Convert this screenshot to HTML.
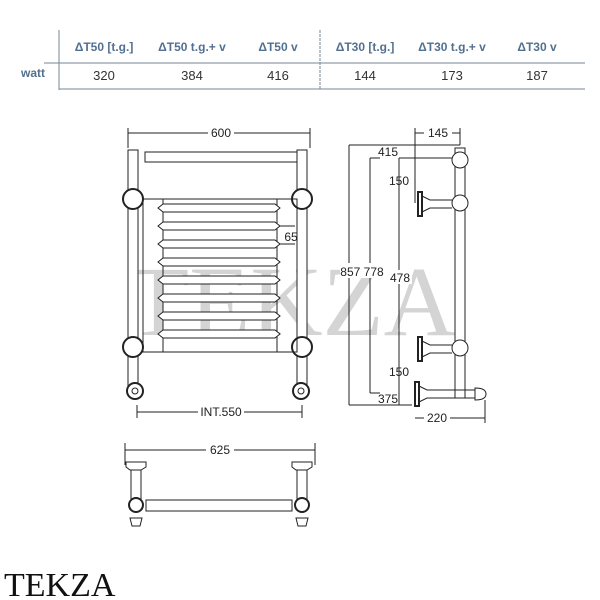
<!DOCTYPE html>
<html><head><style>body{margin:0;background:#fff}svg{display:block}</style></head><body>
<svg width="600" height="600" viewBox="0 0 600 600" xmlns="http://www.w3.org/2000/svg" font-family="Liberation Sans, sans-serif">
<!-- table -->
<g stroke="#7a8694" stroke-width="1">
<line x1="59" y1="30" x2="59" y2="90"/>
<line x1="44" y1="63" x2="585" y2="63"/>
<line x1="59" y1="89" x2="585" y2="89"/>
<line x1="320" y1="30" x2="320" y2="90" stroke-dasharray="3,1"/>
</g>
<g fill="#52708f" font-size="12" font-weight="bold" text-anchor="middle">
<text x="104" y="51">ΔT50 [t.g.]</text><text x="192" y="51">ΔT50 t.g.+  v</text><text x="278" y="51">ΔT50 v</text>
<text x="365" y="51">ΔT30 [t.g.]</text><text x="452" y="51">ΔT30 t.g.+  v</text><text x="537" y="51">ΔT30 v</text>
<text x="33" y="77">watt</text></g>
<g fill="#333" font-size="13" text-anchor="middle">
<text x="104" y="80">320</text><text x="192" y="80">384</text><text x="278" y="80">416</text>
<text x="365" y="80">144</text><text x="452" y="80">173</text><text x="537" y="80">187</text></g>
<!-- watermark -->
<text x="292" y="335" font-family="Liberation Serif, serif" font-size="100" fill="#d4d4d4" text-anchor="middle">TEKZA</text>
<g fill="none" stroke="#222" stroke-width="1">
<!-- front view -->
<line x1="128" y1="133" x2="310" y2="133"/><line x1="128" y1="128" x2="128" y2="148"/><line x1="310" y1="128" x2="310" y2="148"/>
<rect x="128" y="150" width="10" height="240" fill="#fff"/><rect x="297" y="150" width="10" height="240" fill="#fff"/>
<rect x="145" y="152" width="152" height="10" fill="#fff"/>
<circle cx="133" cy="199" r="10" fill="#fff" stroke-width="2"/><circle cx="302" cy="199" r="10" fill="#fff" stroke-width="2"/>
<circle cx="133" cy="347" r="10" fill="#fff" stroke-width="2"/><circle cx="302" cy="347" r="10" fill="#fff" stroke-width="2"/>
<rect x="143" y="199" width="154" height="153"/>
<line x1="163" y1="199" x2="163" y2="352"/><line x1="277" y1="199" x2="277" y2="352"/>
<g fill="#fff">
<path d="M158 208 L163 204 L275 204 L280 208 L275 212 L163 212Z"/>
<path d="M158 226 L163 222 L275 222 L280 226 L275 230 L163 230Z"/>
<path d="M158 244 L163 240 L275 240 L280 244 L275 248 L163 248Z"/>
<path d="M158 262 L163 258 L275 258 L280 262 L275 266 L163 266Z"/>
<path d="M158 280 L163 276 L275 276 L280 280 L275 284 L163 284Z"/>
<path d="M158 298 L163 294 L275 294 L280 298 L275 302 L163 302Z"/>
<path d="M158 316 L163 312 L275 312 L280 316 L275 320 L163 320Z"/>
<path d="M158 334 L163 330 L275 330 L280 334 L275 338 L163 338Z"/>
</g>
<line x1="280" y1="226" x2="295" y2="226"/><line x1="280" y1="244" x2="295" y2="244"/>
<circle cx="135" cy="391" r="8" stroke-width="2" fill="#fff"/><circle cx="135" cy="391" r="3"/>
<circle cx="301" cy="391" r="8" stroke-width="2" fill="#fff"/><circle cx="301" cy="391" r="3"/>
<line x1="137" y1="412" x2="302" y2="412"/><line x1="137" y1="405" x2="137" y2="418"/><line x1="302" y1="405" x2="302" y2="418"/>
<!-- side view -->
<line x1="349" y1="145" x2="349" y2="405"/><line x1="349" y1="145" x2="460" y2="145"/><line x1="349" y1="405" x2="412" y2="405"/>
<line x1="370" y1="158" x2="370" y2="393"/><line x1="370" y1="158" x2="380" y2="158"/><line x1="370" y1="393" x2="380" y2="393"/>
<line x1="399" y1="158" x2="399" y2="405"/><line x1="399" y1="158" x2="452" y2="158"/>
<line x1="415" y1="128" x2="415" y2="203"/><line x1="415" y1="133" x2="460" y2="133"/><line x1="460" y1="128" x2="460" y2="145"/>
<rect x="455" y="148" width="10" height="250" fill="#fff"/>
<circle cx="460" cy="160" r="8" fill="#fff"/><circle cx="460" cy="203" r="8" fill="#fff"/><circle cx="460" cy="348" r="8" fill="#fff"/>
<rect x="418" y="192" width="4" height="24" stroke-width="2"/><path d="M422 196 L430 200 L452 200 M422 212 L430 208 L452 208"/>
<rect x="418" y="337" width="4" height="24" stroke-width="2"/><path d="M422 341 L430 345 L452 345 M422 357 L430 353 L452 353"/>
<rect x="415" y="382" width="4" height="24" stroke-width="2"/><path d="M419 386 L427 390 L475 390 M419 402 L427 398 L475 398"/>
<path d="M475 388 Q486 388 486 394 Q486 400 475 400Z" fill="#fff"/>
<line x1="415" y1="418" x2="485" y2="418"/><line x1="485" y1="400" x2="485" y2="423"/>
<!-- bottom view -->
<line x1="125" y1="450" x2="315" y2="450"/><line x1="125" y1="443" x2="125" y2="465"/><line x1="315" y1="443" x2="315" y2="465"/>
<path d="M126 462 L146 462 L146 467 L141 470 L130 470 L126 467Z" fill="#fff"/><path d="M292 462 L312 462 L312 467 L307 470 L296 470 L292 467Z" fill="#fff"/>
<rect x="131" y="470" width="10" height="40" fill="#fff"/><rect x="297" y="470" width="10" height="40" fill="#fff"/>
<rect x="146" y="500" width="146" height="11" fill="#fff"/>
<circle cx="136" cy="505" r="7" stroke-width="2" fill="#fff"/><circle cx="302" cy="505" r="7" stroke-width="2" fill="#fff"/>
<path d="M130 518 L142 518 L140 526 L132 526Z"/><path d="M296 518 L308 518 L306 526 L298 526Z"/>
</g>
<g fill="#222" font-size="12" text-anchor="middle">
<rect x="208" y="126" width="26" height="12" fill="#fff"/><text x="221" y="137">600</text>
<rect x="198" y="405" width="46" height="12" fill="#fff"/><text x="221" y="416">INT.550</text>
<text x="291" y="241">65</text>
<rect x="206" y="443" width="28" height="12" fill="#fff"/><text x="220" y="454">625</text>
<rect x="424" y="126" width="28" height="12" fill="#fff"/><text x="438" y="137">145</text>
<rect x="424" y="411" width="26" height="12" fill="#fff"/><text x="437" y="422">220</text>
<text x="388" y="156">415</text><text x="399" y="185">150</text>
<rect x="340" y="263" width="44" height="15" fill="#fff"/><text x="362" y="276">857 778</text>
<rect x="388" y="270" width="24" height="14" fill="#fff"/><text x="400" y="282">478</text>
<text x="399" y="376">150</text><text x="388" y="403">375</text>
</g>
<text x="4" y="596" font-family="Liberation Serif, serif" font-size="34" fill="#111">TEKZA</text>
</svg>
</body></html>
